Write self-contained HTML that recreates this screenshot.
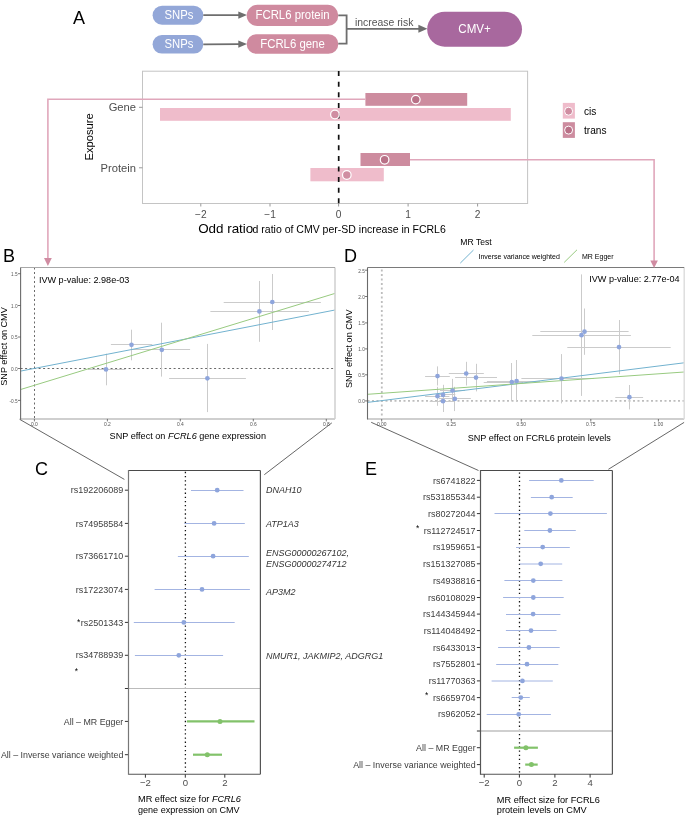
<!DOCTYPE html>
<html><head><meta charset="utf-8"><title>figure</title>
<style>
html,body{margin:0;padding:0;background:#fff;}
body{width:685px;height:820px;overflow:hidden;}
svg{display:block;will-change:transform;font-family:"Liberation Sans", sans-serif;}
</style></head>
<body>
<svg width="685" height="820" viewBox="0 0 685 820">
<rect x="0" y="0" width="685" height="820" fill="#fff"/>
<text x="73" y="24" font-size="18" fill="#000" text-anchor="start" >A</text>
<rect x="152.6" y="5.8" width="50.7" height="19" rx="9.5" fill="#93a7d8"/>
<rect x="152.6" y="35" width="50.7" height="18.6" rx="9.3" fill="#93a7d8"/>
<text transform="translate(179,19.0) scale(1,1.06)" font-size="11.3" fill="#fff" text-anchor="middle">SNPs</text>
<text transform="translate(179,48.0) scale(1,1.06)" font-size="11.3" fill="#fff" text-anchor="middle">SNPs</text>
<line x1="203.3" y1="15.1" x2="239" y2="15.1" stroke="#6e6e6e" stroke-width="1.8" />
<polygon points="238.3,11.4 247,15.1 238.3,18.8" fill="#6e6e6e"/>
<line x1="203.3" y1="44.3" x2="239" y2="44.1" stroke="#6e6e6e" stroke-width="1.8" />
<polygon points="238.3,40.4 247,44.1 238.3,47.8" fill="#6e6e6e"/>
<rect x="246.7" y="4.8" width="91.6" height="21.2" rx="10.6" fill="#cf8a9f"/>
<rect x="246.7" y="34.2" width="91.6" height="19.6" rx="9.8" fill="#cf8a9f"/>
<text transform="translate(292.5,19.3) scale(1,1.1)" font-size="11.4" fill="#fff" text-anchor="middle">FCRL6 protein</text>
<text transform="translate(292.5,47.6) scale(1,1.1)" font-size="11.4" fill="#fff" text-anchor="middle">FCRL6 gene</text>
<path d="M338.3,15.3 H346.6 V43.6 H338.3" fill="none" stroke="#6e6e6e" stroke-width="1.8"/>
<line x1="346.6" y1="28.8" x2="419" y2="28.8" stroke="#6e6e6e" stroke-width="1.8" />
<polygon points="418.4,24.8 427.4,28.8 418.4,32.8" fill="#6e6e6e"/>
<text x="355" y="25.6" font-size="10.4" fill="#555" text-anchor="start" >increase risk</text>
<rect x="427.2" y="11.7" width="94.8" height="35" rx="17.5" fill="#a8689e"/>
<text transform="translate(474.6,32.6) scale(1,1.08)" font-size="11.6" fill="#fff" text-anchor="middle">CMV+</text>
<rect x="142.5" y="71.2" width="385.1" height="132.3" fill="none" stroke="#c4c4c4" stroke-width="1"/>
<line x1="139" y1="107.3" x2="142.5" y2="107.3" stroke="#999" stroke-width="1" />
<line x1="139" y1="167.8" x2="142.5" y2="167.8" stroke="#999" stroke-width="1" />
<line x1="200.8" y1="203.5" x2="200.8" y2="206.5" stroke="#999" stroke-width="1" />
<text x="200.8" y="218.3" font-size="10.2" fill="#4d4d4d" text-anchor="middle" >−2</text>
<line x1="270.0" y1="203.5" x2="270.0" y2="206.5" stroke="#999" stroke-width="1" />
<text x="270.0" y="218.3" font-size="10.2" fill="#4d4d4d" text-anchor="middle" >−1</text>
<line x1="338.6" y1="203.5" x2="338.6" y2="206.5" stroke="#999" stroke-width="1" />
<text x="338.6" y="218.3" font-size="10.2" fill="#4d4d4d" text-anchor="middle" >0</text>
<line x1="408.1" y1="203.5" x2="408.1" y2="206.5" stroke="#999" stroke-width="1" />
<text x="408.1" y="218.3" font-size="10.2" fill="#4d4d4d" text-anchor="middle" >1</text>
<line x1="477.6" y1="203.5" x2="477.6" y2="206.5" stroke="#999" stroke-width="1" />
<text x="477.6" y="218.3" font-size="10.2" fill="#4d4d4d" text-anchor="middle" >2</text>
<text x="136" y="111.3" font-size="11.2" fill="#4d4d4d" text-anchor="end" >Gene</text>
<text x="136" y="171.6" font-size="11.2" fill="#4d4d4d" text-anchor="end" >Protein</text>
<text transform="translate(92.7,136.9) rotate(-90)" font-size="11.2" fill="#000" text-anchor="middle">Exposure</text>
<rect x="365.4" y="93" width="101.8" height="12.8" fill="#cd8c9f" />
<rect x="160" y="108" width="350.8" height="12.8" fill="#efbccb" />
<rect x="360.5" y="153" width="49.5" height="13" fill="#cd8c9f" />
<rect x="310.4" y="168" width="73.4" height="13.3" fill="#efbccb" />
<line x1="338.7" y1="71.1" x2="338.7" y2="203.6" stroke="#111" stroke-width="1.7" stroke-dasharray="5.0,5.6"/>
<path d="M365.4,99.2 H47.9 V258.5" fill="none" stroke="#e0a7bb" stroke-width="1.6"/>
<path d="M410,159.7 H654.1 V261" fill="none" stroke="#e0a7bb" stroke-width="1.6"/>
<circle cx="415.8" cy="99.6" r="4.3" fill="#b97187" stroke="#fff" stroke-width="1.2"/>
<circle cx="334.9" cy="114.5" r="4.3" fill="#d08ea2" stroke="#fff" stroke-width="1.2"/>
<circle cx="384.6" cy="159.8" r="4.3" fill="#b97187" stroke="#fff" stroke-width="1.2"/>
<circle cx="346.8" cy="175" r="4.3" fill="#d08ea2" stroke="#fff" stroke-width="1.2"/>
<text x="198.2" y="233.4" font-size="13.4" fill="#000" text-anchor="start" >Odd ratio</text>
<text x="252.6" y="233.4" font-size="10.5" fill="#000" text-anchor="start" >d ratio of CMV per-SD increase in FCRL6</text>
<rect x="562.8" y="102.9" width="12.1" height="15.7" fill="#efbccb" />
<circle cx="568.6" cy="111.2" r="4.0" fill="#d08ea2" stroke="#fff" stroke-width="1"/>
<rect x="562.8" y="122.2" width="12.1" height="15.7" fill="#cd8c9f" />
<circle cx="568.6" cy="130.1" r="4.0" fill="#b97187" stroke="#fff" stroke-width="1"/>
<text x="584" y="114.9" font-size="10.1" fill="#000" text-anchor="start" >cis</text>
<text x="584" y="134.2" font-size="10.1" fill="#000" text-anchor="start" >trans</text>
<text x="2.9" y="262" font-size="18" fill="#000" text-anchor="start" >B</text>
<line x1="34.5" y1="267.5" x2="34.5" y2="418.9" stroke="#6a6a6a" stroke-width="1.0" stroke-dasharray="2,2.5"/>
<line x1="20.6" y1="368.5" x2="335.0" y2="368.5" stroke="#6a6a6a" stroke-width="1.0" stroke-dasharray="2,2.5"/>
<line x1="106.5" y1="353.7" x2="106.5" y2="385.3" stroke="#cbcbcb" stroke-width="1" />
<line x1="88.0" y1="369.5" x2="125.4" y2="369.5" stroke="#cbcbcb" stroke-width="1" />
<line x1="131.5" y1="329.7" x2="131.5" y2="360.3" stroke="#cbcbcb" stroke-width="1" />
<line x1="110.9" y1="344.5" x2="152.3" y2="344.5" stroke="#cbcbcb" stroke-width="1" />
<line x1="161.5" y1="322.7" x2="161.5" y2="376.6" stroke="#cbcbcb" stroke-width="1" />
<line x1="131.0" y1="349.5" x2="190.1" y2="349.5" stroke="#cbcbcb" stroke-width="1" />
<line x1="207.5" y1="343.9" x2="207.5" y2="412.1" stroke="#cbcbcb" stroke-width="1" />
<line x1="169.1" y1="378.5" x2="245.9" y2="378.5" stroke="#cbcbcb" stroke-width="1" />
<line x1="259.5" y1="281.0" x2="259.5" y2="341.8" stroke="#cbcbcb" stroke-width="1" />
<line x1="210.4" y1="311.5" x2="308.9" y2="311.5" stroke="#cbcbcb" stroke-width="1" />
<line x1="272.5" y1="274.0" x2="272.5" y2="330.0" stroke="#cbcbcb" stroke-width="1" />
<line x1="223.7" y1="302.5" x2="320.9" y2="302.5" stroke="#cbcbcb" stroke-width="1" />
<line x1="20.6" y1="371.1" x2="335.0" y2="310.0" stroke="#72b2cf" stroke-width="1" />
<line x1="20.6" y1="389.5" x2="335.0" y2="293.4" stroke="#98ca80" stroke-width="1" />
<circle cx="106.0" cy="369.4" r="2.35" fill="#8ea5dc" />
<circle cx="131.5" cy="344.8" r="2.35" fill="#8ea5dc" />
<circle cx="161.8" cy="349.8" r="2.35" fill="#8ea5dc" />
<circle cx="207.4" cy="378.3" r="2.35" fill="#8ea5dc" />
<circle cx="259.4" cy="311.4" r="2.35" fill="#8ea5dc" />
<circle cx="272.3" cy="302.0" r="2.35" fill="#8ea5dc" />
<line x1="20.6" y1="418.9" x2="335.0" y2="418.9" stroke="#cfcfcf" stroke-width="2" />
<line x1="335.0" y1="267.5" x2="335.0" y2="418.9" stroke="#cfcfcf" stroke-width="1.5" />
<line x1="20.6" y1="267.5" x2="335.0" y2="267.5" stroke="#a8a8a8" stroke-width="1" />
<line x1="20.6" y1="267.5" x2="20.6" y2="419.4" stroke="#6a6a6a" stroke-width="1.1" />
<line x1="18" y1="273.7" x2="20.6" y2="273.7" stroke="#555" stroke-width="0.8" />
<text transform="translate(17.6,276.0) scale(0.86,1.0)" font-size="5.5" fill="#555" text-anchor="end">1.5</text>
<line x1="18" y1="305.5" x2="20.6" y2="305.5" stroke="#555" stroke-width="0.8" />
<text transform="translate(17.6,307.8) scale(0.86,1.0)" font-size="5.5" fill="#555" text-anchor="end">1.0</text>
<line x1="18" y1="337.0" x2="20.6" y2="337.0" stroke="#555" stroke-width="0.8" />
<text transform="translate(17.6,339.3) scale(0.86,1.0)" font-size="5.5" fill="#555" text-anchor="end">0.5</text>
<line x1="18" y1="368.5" x2="20.6" y2="368.5" stroke="#555" stroke-width="0.8" />
<text transform="translate(17.6,370.8) scale(0.86,1.0)" font-size="5.5" fill="#555" text-anchor="end">0.0</text>
<line x1="18" y1="400.4" x2="20.6" y2="400.4" stroke="#555" stroke-width="0.8" />
<text transform="translate(17.6,402.7) scale(0.86,1.0)" font-size="5.5" fill="#555" text-anchor="end">-0.5</text>
<line x1="34.4" y1="418.9" x2="34.4" y2="421.4" stroke="#555" stroke-width="0.8" />
<text transform="translate(34.4,425.8) scale(0.88,1.0)" font-size="5.6" fill="#555" text-anchor="middle">0.0</text>
<line x1="107.4" y1="418.9" x2="107.4" y2="421.4" stroke="#555" stroke-width="0.8" />
<text transform="translate(107.4,425.8) scale(0.88,1.0)" font-size="5.6" fill="#555" text-anchor="middle">0.2</text>
<line x1="180.3" y1="418.9" x2="180.3" y2="421.4" stroke="#555" stroke-width="0.8" />
<text transform="translate(180.3,425.8) scale(0.88,1.0)" font-size="5.6" fill="#555" text-anchor="middle">0.4</text>
<line x1="253.3" y1="418.9" x2="253.3" y2="421.4" stroke="#555" stroke-width="0.8" />
<text transform="translate(253.3,425.8) scale(0.88,1.0)" font-size="5.6" fill="#555" text-anchor="middle">0.6</text>
<line x1="326.3" y1="418.9" x2="326.3" y2="421.4" stroke="#555" stroke-width="0.8" />
<text transform="translate(326.3,425.8) scale(0.88,1.0)" font-size="5.6" fill="#555" text-anchor="middle">0.8</text>
<text x="38.9" y="282.8" font-size="9.1" fill="#000" text-anchor="start" >IVW p-value: 2.98e-03</text>
<text transform="translate(7.3,346.5) rotate(-90)" font-size="9.1" fill="#000" text-anchor="middle">SNP effect on CMV</text>
<text x="109.6" y="438.9" font-size="9.1" fill="#000">SNP effect on <tspan font-style="italic">FCRL6</tspan> gene expression</text>
<line x1="19.6" y1="419.3" x2="124.4" y2="479.4" stroke="#555" stroke-width="0.9" />
<line x1="331.8" y1="422.9" x2="264.3" y2="474.7" stroke="#555" stroke-width="0.9" />
<text x="343.9" y="262" font-size="18" fill="#000" text-anchor="start" >D</text>
<line x1="381.8" y1="269.4" x2="381.8" y2="419.0" stroke="#bdbdbd" stroke-width="1.8" stroke-dasharray="2,2.5"/>
<line x1="367.5" y1="400.9" x2="684.2" y2="400.9" stroke="#bdbdbd" stroke-width="1.8" stroke-dasharray="2,2.5"/>
<line x1="437.5" y1="366.4" x2="437.5" y2="385.5" stroke="#cbcbcb" stroke-width="1" />
<line x1="425.1" y1="376.5" x2="449.8" y2="376.5" stroke="#cbcbcb" stroke-width="1" />
<line x1="437.5" y1="386.8" x2="437.5" y2="405.8" stroke="#cbcbcb" stroke-width="1" />
<line x1="425.1" y1="396.5" x2="449.4" y2="396.5" stroke="#cbcbcb" stroke-width="1" />
<line x1="443.5" y1="384.8" x2="443.5" y2="411.8" stroke="#cbcbcb" stroke-width="1" />
<line x1="438.2" y1="394.5" x2="455.3" y2="394.5" stroke="#cbcbcb" stroke-width="1" />
<line x1="443.5" y1="390.0" x2="443.5" y2="412.0" stroke="#cbcbcb" stroke-width="1" />
<line x1="429.7" y1="401.5" x2="453.4" y2="401.5" stroke="#cbcbcb" stroke-width="1" />
<line x1="452.5" y1="378.9" x2="452.5" y2="401.2" stroke="#cbcbcb" stroke-width="1" />
<line x1="440.0" y1="390.5" x2="465.0" y2="390.5" stroke="#cbcbcb" stroke-width="1" />
<line x1="454.5" y1="386.8" x2="454.5" y2="411.1" stroke="#cbcbcb" stroke-width="1" />
<line x1="438.9" y1="398.5" x2="470.8" y2="398.5" stroke="#cbcbcb" stroke-width="1" />
<line x1="466.5" y1="361.8" x2="466.5" y2="385.5" stroke="#cbcbcb" stroke-width="1" />
<line x1="448.8" y1="373.5" x2="483.8" y2="373.5" stroke="#cbcbcb" stroke-width="1" />
<line x1="476.5" y1="363.8" x2="476.5" y2="391.4" stroke="#cbcbcb" stroke-width="1" />
<line x1="455.1" y1="377.5" x2="497.0" y2="377.5" stroke="#cbcbcb" stroke-width="1" />
<line x1="511.5" y1="363.0" x2="511.5" y2="401.0" stroke="#cbcbcb" stroke-width="1" />
<line x1="483.7" y1="382.5" x2="523.0" y2="382.5" stroke="#cbcbcb" stroke-width="1" />
<line x1="516.5" y1="360.0" x2="516.5" y2="401.8" stroke="#cbcbcb" stroke-width="1" />
<line x1="486.9" y1="381.5" x2="540.0" y2="381.5" stroke="#cbcbcb" stroke-width="1" />
<line x1="561.5" y1="354.1" x2="561.5" y2="403.4" stroke="#cbcbcb" stroke-width="1" />
<line x1="521.4" y1="378.5" x2="594.0" y2="378.5" stroke="#cbcbcb" stroke-width="1" />
<line x1="581.5" y1="274.4" x2="581.5" y2="395.9" stroke="#cbcbcb" stroke-width="1" />
<line x1="532.3" y1="335.5" x2="630.9" y2="335.5" stroke="#cbcbcb" stroke-width="1" />
<line x1="584.5" y1="308.5" x2="584.5" y2="354.8" stroke="#cbcbcb" stroke-width="1" />
<line x1="540.3" y1="331.5" x2="628.6" y2="331.5" stroke="#cbcbcb" stroke-width="1" />
<line x1="619.5" y1="320.0" x2="619.5" y2="374.3" stroke="#cbcbcb" stroke-width="1" />
<line x1="567.3" y1="347.5" x2="670.7" y2="347.5" stroke="#cbcbcb" stroke-width="1" />
<line x1="629.5" y1="385.0" x2="629.5" y2="409.4" stroke="#cbcbcb" stroke-width="1" />
<line x1="615.3" y1="397.5" x2="643.1" y2="397.5" stroke="#cbcbcb" stroke-width="1" />
<line x1="367.5" y1="402.4" x2="684.2" y2="362.8" stroke="#72b2cf" stroke-width="1" />
<line x1="367.5" y1="394.3" x2="684.2" y2="372.0" stroke="#98ca80" stroke-width="1" />
<circle cx="437.5" cy="376.1" r="2.35" fill="#8ea5dc" />
<circle cx="437.5" cy="396.2" r="2.35" fill="#8ea5dc" />
<circle cx="443.0" cy="394.9" r="2.35" fill="#8ea5dc" />
<circle cx="443.0" cy="401.2" r="2.35" fill="#8ea5dc" />
<circle cx="452.5" cy="390.5" r="2.35" fill="#8ea5dc" />
<circle cx="454.8" cy="398.9" r="2.35" fill="#8ea5dc" />
<circle cx="466.2" cy="373.5" r="2.35" fill="#8ea5dc" />
<circle cx="476.0" cy="377.6" r="2.35" fill="#8ea5dc" />
<circle cx="511.8" cy="382.0" r="2.35" fill="#8ea5dc" />
<circle cx="516.6" cy="381.0" r="2.35" fill="#8ea5dc" />
<circle cx="561.5" cy="378.5" r="2.35" fill="#8ea5dc" />
<circle cx="581.5" cy="335.2" r="2.35" fill="#8ea5dc" />
<circle cx="584.5" cy="331.7" r="2.35" fill="#8ea5dc" />
<circle cx="619.0" cy="347.1" r="2.35" fill="#8ea5dc" />
<circle cx="629.4" cy="397.2" r="2.35" fill="#8ea5dc" />
<line x1="367.5" y1="419.0" x2="684.2" y2="419.0" stroke="#cfcfcf" stroke-width="2" />
<line x1="684.2" y1="267.5" x2="684.2" y2="419.0" stroke="#dedede" stroke-width="1.5" />
<line x1="367.5" y1="267.5" x2="684.2" y2="267.5" stroke="#7a7a7a" stroke-width="1" />
<line x1="367.5" y1="267.5" x2="367.5" y2="419.5" stroke="#6a6a6a" stroke-width="1.1" />
<line x1="365" y1="270.2" x2="367.5" y2="270.2" stroke="#555" stroke-width="0.8" />
<text transform="translate(364.8,272.5) scale(0.86,1.0)" font-size="5.5" fill="#555" text-anchor="end">2.5</text>
<line x1="365" y1="296.5" x2="367.5" y2="296.5" stroke="#555" stroke-width="0.8" />
<text transform="translate(364.8,298.8) scale(0.86,1.0)" font-size="5.5" fill="#555" text-anchor="end">2.0</text>
<line x1="365" y1="322.9" x2="367.5" y2="322.9" stroke="#555" stroke-width="0.8" />
<text transform="translate(364.8,325.2) scale(0.86,1.0)" font-size="5.5" fill="#555" text-anchor="end">1.5</text>
<line x1="365" y1="348.9" x2="367.5" y2="348.9" stroke="#555" stroke-width="0.8" />
<text transform="translate(364.8,351.2) scale(0.86,1.0)" font-size="5.5" fill="#555" text-anchor="end">1.0</text>
<line x1="365" y1="374.8" x2="367.5" y2="374.8" stroke="#555" stroke-width="0.8" />
<text transform="translate(364.8,377.1) scale(0.86,1.0)" font-size="5.5" fill="#555" text-anchor="end">0.5</text>
<line x1="365" y1="400.9" x2="367.5" y2="400.9" stroke="#555" stroke-width="0.8" />
<text transform="translate(364.8,403.2) scale(0.86,1.0)" font-size="5.5" fill="#555" text-anchor="end">0.0</text>
<line x1="381.7" y1="419.0" x2="381.7" y2="421.5" stroke="#555" stroke-width="0.8" />
<text transform="translate(381.7,425.8) scale(0.88,1.0)" font-size="5.6" fill="#555" text-anchor="middle">0.00</text>
<line x1="451.3" y1="419.0" x2="451.3" y2="421.5" stroke="#555" stroke-width="0.8" />
<text transform="translate(451.3,425.8) scale(0.88,1.0)" font-size="5.6" fill="#555" text-anchor="middle">0.25</text>
<line x1="521.3" y1="419.0" x2="521.3" y2="421.5" stroke="#555" stroke-width="0.8" />
<text transform="translate(521.3,425.8) scale(0.88,1.0)" font-size="5.6" fill="#555" text-anchor="middle">0.50</text>
<line x1="590.8" y1="419.0" x2="590.8" y2="421.5" stroke="#555" stroke-width="0.8" />
<text transform="translate(590.8,425.8) scale(0.88,1.0)" font-size="5.6" fill="#555" text-anchor="middle">0.75</text>
<line x1="658.4" y1="419.0" x2="658.4" y2="421.5" stroke="#555" stroke-width="0.8" />
<text transform="translate(658.4,425.8) scale(0.88,1.0)" font-size="5.6" fill="#555" text-anchor="middle">1.00</text>
<text x="589.2" y="281.9" font-size="9.1" fill="#000" text-anchor="start" >IVW p-value: 2.77e-04</text>
<text transform="translate(351.7,348.8) rotate(-90)" font-size="9.1" fill="#000" text-anchor="middle">SNP effect on CMV</text>
<text x="467.7" y="441" font-size="9.1" fill="#000" text-anchor="start" >SNP effect on FCRL6 protein levels</text>
<text x="460.3" y="244.6" font-size="8.6" fill="#000" text-anchor="start" >MR Test</text>
<line x1="460.3" y1="263.1" x2="473.5" y2="250" stroke="#72b2cf" stroke-width="1" />
<text x="478.5" y="259.4" font-size="7.0" fill="#000" text-anchor="start" >Inverse variance weighted</text>
<line x1="564.2" y1="262.4" x2="577" y2="249.8" stroke="#98ca80" stroke-width="1" />
<text x="582" y="259.4" font-size="7.0" fill="#000" text-anchor="start" >MR Egger</text>
<line x1="371.2" y1="422.3" x2="478.5" y2="470.5" stroke="#555" stroke-width="0.9" />
<line x1="684.1" y1="422.4" x2="608.4" y2="469.3" stroke="#555" stroke-width="0.9" />
<text x="34.9" y="475.4" font-size="18" fill="#000" text-anchor="start" >C</text>
<line x1="185.4" y1="471.85" x2="185.4" y2="774.3" stroke="#111" stroke-width="1.3" stroke-dasharray="1.3,2.85"/>
<line x1="128.5" y1="688.5" x2="260.4" y2="688.5" stroke="#bbbbbb" stroke-width="1.2" />
<line x1="191.0" y1="490.5" x2="243.5" y2="490.5" stroke="#a3b4e2" stroke-width="1" />
<circle cx="217.2" cy="490.2" r="2.4" fill="#8ea5dc" />
<line x1="184.3" y1="523.5" x2="244.8" y2="523.5" stroke="#a3b4e2" stroke-width="1" />
<circle cx="214.1" cy="523.4" r="2.4" fill="#8ea5dc" />
<line x1="177.9" y1="556.5" x2="248.8" y2="556.5" stroke="#a3b4e2" stroke-width="1" />
<circle cx="213.1" cy="556.2" r="2.4" fill="#8ea5dc" />
<line x1="154.6" y1="589.5" x2="249.9" y2="589.5" stroke="#a3b4e2" stroke-width="1" />
<circle cx="202.0" cy="589.4" r="2.4" fill="#8ea5dc" />
<line x1="133.8" y1="622.5" x2="234.7" y2="622.5" stroke="#a3b4e2" stroke-width="1" />
<circle cx="183.8" cy="622.4" r="2.4" fill="#8ea5dc" />
<line x1="134.9" y1="655.5" x2="223.1" y2="655.5" stroke="#a3b4e2" stroke-width="1" />
<circle cx="178.8" cy="655.3" r="2.4" fill="#8ea5dc" />
<line x1="186.9" y1="721.4" x2="254.5" y2="721.4" stroke="#82c26a" stroke-width="2.2" />
<circle cx="220.0" cy="721.4" r="2.5" fill="#82c26a" />
<line x1="193.0" y1="754.7" x2="222.0" y2="754.7" stroke="#82c26a" stroke-width="2.2" />
<circle cx="207.3" cy="754.7" r="2.5" fill="#82c26a" />
<line x1="124.9" y1="490.2" x2="128.5" y2="490.2" stroke="#333" stroke-width="1" />
<line x1="124.9" y1="523.4" x2="128.5" y2="523.4" stroke="#333" stroke-width="1" />
<line x1="124.9" y1="556.2" x2="128.5" y2="556.2" stroke="#333" stroke-width="1" />
<line x1="124.9" y1="589.4" x2="128.5" y2="589.4" stroke="#333" stroke-width="1" />
<line x1="124.9" y1="622.4" x2="128.5" y2="622.4" stroke="#333" stroke-width="1" />
<line x1="124.9" y1="655.3" x2="128.5" y2="655.3" stroke="#333" stroke-width="1" />
<line x1="124.9" y1="721.4" x2="128.5" y2="721.4" stroke="#333" stroke-width="1" />
<line x1="124.9" y1="754.7" x2="128.5" y2="754.7" stroke="#333" stroke-width="1" />
<line x1="124.9" y1="688.5" x2="128.5" y2="688.5" stroke="#333" stroke-width="1" />
<line x1="128.5" y1="470.5" x2="260.4" y2="470.5" stroke="#4a4a4a" stroke-width="1.1" />
<line x1="260.4" y1="470.5" x2="260.4" y2="774.3" stroke="#555" stroke-width="1.2" />
<line x1="128.5" y1="774.3" x2="260.4" y2="774.3" stroke="#555" stroke-width="1.1" />
<line x1="128.5" y1="470.0" x2="128.5" y2="774.8" stroke="#777" stroke-width="1.2" />
<text x="123.3" y="493.3" font-size="9.0" fill="#3d3d3d" text-anchor="end" >rs192206089</text>
<text x="123.3" y="526.5" font-size="9.0" fill="#3d3d3d" text-anchor="end" >rs74958584</text>
<text x="123.3" y="559.3000000000001" font-size="9.0" fill="#3d3d3d" text-anchor="end" >rs73661710</text>
<text x="123.3" y="592.5" font-size="9.0" fill="#3d3d3d" text-anchor="end" >rs17223074</text>
<text x="123.3" y="625.5" font-size="9.0" fill="#3d3d3d" text-anchor="end" >rs2501343</text>
<text x="123.3" y="658.4" font-size="9.0" fill="#3d3d3d" text-anchor="end" >rs34788939</text>
<text x="123.3" y="724.5" font-size="8.85" fill="#3d3d3d" text-anchor="end" >All – MR Egger</text>
<text x="123.3" y="757.8000000000001" font-size="8.85" fill="#3d3d3d" text-anchor="end" >All – Inverse variance weighted</text>
<line x1="145.4" y1="774.3" x2="145.4" y2="777.6999999999999" stroke="#333" stroke-width="1" />
<text x="145.4" y="786.3" font-size="9.6" fill="#4d4d4d" text-anchor="middle" >−2</text>
<line x1="185.3" y1="774.3" x2="185.3" y2="777.6999999999999" stroke="#333" stroke-width="1" />
<text x="185.3" y="786.3" font-size="9.6" fill="#4d4d4d" text-anchor="middle" >0</text>
<line x1="224.8" y1="774.3" x2="224.8" y2="777.6999999999999" stroke="#333" stroke-width="1" />
<text x="224.8" y="786.3" font-size="9.6" fill="#4d4d4d" text-anchor="middle" >2</text>
<text x="78.7" y="625.2" font-size="8.4" fill="#000" text-anchor="middle" >*</text>
<text x="76.5" y="674.2" font-size="8.4" fill="#000" text-anchor="middle" >*</text>
<text x="138" y="802.4" font-size="9.2" fill="#000">MR effect size for <tspan font-style="italic">FCRL6</tspan></text>
<text x="138" y="813.2" font-size="9.05" fill="#000" text-anchor="start" >gene expression on CMV</text>
<text x="266" y="493.4" font-size="9.0" fill="#333" text-anchor="start" font-style="italic">DNAH10</text>
<text x="266" y="527.2" font-size="9.0" fill="#333" text-anchor="start" font-style="italic">ATP1A3</text>
<text x="266" y="556.2" font-size="9.0" fill="#333" text-anchor="start" font-style="italic">ENSG00000267102,</text>
<text x="266" y="566.6" font-size="9.0" fill="#333" text-anchor="start" font-style="italic">ENSG00000274712</text>
<text x="266" y="594.7" font-size="9.0" fill="#333" text-anchor="start" font-style="italic">AP3M2</text>
<text x="266" y="659.2" font-size="9.0" fill="#333" text-anchor="start" font-style="italic">NMUR1, JAKMIP2, ADGRG1</text>
<text x="365" y="474.8" font-size="18" fill="#000" text-anchor="start" >E</text>
<line x1="519.5" y1="472.45" x2="519.5" y2="774.2" stroke="#111" stroke-width="1.3" stroke-dasharray="1.3,2.85"/>
<line x1="480.5" y1="731.0" x2="612.4" y2="731.0" stroke="#cfcfcf" stroke-width="2" />
<line x1="529.1" y1="480.5" x2="593.7" y2="480.5" stroke="#a3b4e2" stroke-width="1" />
<circle cx="561.3" cy="480.4" r="2.4" fill="#8ea5dc" />
<line x1="530.9" y1="497.5" x2="572.7" y2="497.5" stroke="#a3b4e2" stroke-width="1" />
<circle cx="551.7" cy="497.2" r="2.4" fill="#8ea5dc" />
<line x1="494.5" y1="513.5" x2="606.9" y2="513.5" stroke="#a3b4e2" stroke-width="1" />
<circle cx="550.4" cy="513.6" r="2.4" fill="#8ea5dc" />
<line x1="524.3" y1="530.5" x2="575.8" y2="530.5" stroke="#a3b4e2" stroke-width="1" />
<circle cx="549.9" cy="530.5" r="2.4" fill="#8ea5dc" />
<line x1="516.0" y1="547.5" x2="569.8" y2="547.5" stroke="#a3b4e2" stroke-width="1" />
<circle cx="542.7" cy="547.1" r="2.4" fill="#8ea5dc" />
<line x1="519.7" y1="564" x2="562.2" y2="564" stroke="#a3b4e2" stroke-width="1" />
<circle cx="540.7" cy="563.8" r="2.4" fill="#8ea5dc" />
<line x1="504.4" y1="580.5" x2="562.4" y2="580.5" stroke="#a3b4e2" stroke-width="1" />
<circle cx="533.3" cy="580.6" r="2.4" fill="#8ea5dc" />
<line x1="503.1" y1="597.5" x2="563.7" y2="597.5" stroke="#a3b4e2" stroke-width="1" />
<circle cx="533.3" cy="597.5" r="2.4" fill="#8ea5dc" />
<line x1="506.0" y1="614.5" x2="560.4" y2="614.5" stroke="#a3b4e2" stroke-width="1" />
<circle cx="533.1" cy="614.1" r="2.4" fill="#8ea5dc" />
<line x1="505.9" y1="630.5" x2="556.5" y2="630.5" stroke="#a3b4e2" stroke-width="1" />
<circle cx="531.0" cy="630.6" r="2.4" fill="#8ea5dc" />
<line x1="498.1" y1="647.5" x2="559.7" y2="647.5" stroke="#a3b4e2" stroke-width="1" />
<circle cx="528.9" cy="647.5" r="2.4" fill="#8ea5dc" />
<line x1="496.2" y1="664.5" x2="558.3" y2="664.5" stroke="#a3b4e2" stroke-width="1" />
<circle cx="527.0" cy="664.2" r="2.4" fill="#8ea5dc" />
<line x1="491.6" y1="681" x2="552.8" y2="681" stroke="#a3b4e2" stroke-width="1" />
<circle cx="522.4" cy="680.9" r="2.4" fill="#8ea5dc" />
<line x1="511.7" y1="697.5" x2="529.8" y2="697.5" stroke="#a3b4e2" stroke-width="1" />
<circle cx="520.8" cy="697.6" r="2.4" fill="#8ea5dc" />
<line x1="486.7" y1="714.5" x2="550.9" y2="714.5" stroke="#a3b4e2" stroke-width="1" />
<circle cx="518.7" cy="714.3" r="2.4" fill="#8ea5dc" />
<line x1="514.1" y1="747.7" x2="537.9" y2="747.7" stroke="#82c26a" stroke-width="2.2" />
<circle cx="525.9" cy="747.7" r="2.5" fill="#82c26a" />
<line x1="525.2" y1="764.6" x2="537.7" y2="764.6" stroke="#82c26a" stroke-width="2.2" />
<circle cx="531.4" cy="764.6" r="2.5" fill="#82c26a" />
<line x1="476.9" y1="480.4" x2="480.5" y2="480.4" stroke="#333" stroke-width="1" />
<line x1="476.9" y1="497.2" x2="480.5" y2="497.2" stroke="#333" stroke-width="1" />
<line x1="476.9" y1="513.6" x2="480.5" y2="513.6" stroke="#333" stroke-width="1" />
<line x1="476.9" y1="530.5" x2="480.5" y2="530.5" stroke="#333" stroke-width="1" />
<line x1="476.9" y1="547.1" x2="480.5" y2="547.1" stroke="#333" stroke-width="1" />
<line x1="476.9" y1="563.8" x2="480.5" y2="563.8" stroke="#333" stroke-width="1" />
<line x1="476.9" y1="580.6" x2="480.5" y2="580.6" stroke="#333" stroke-width="1" />
<line x1="476.9" y1="597.5" x2="480.5" y2="597.5" stroke="#333" stroke-width="1" />
<line x1="476.9" y1="614.1" x2="480.5" y2="614.1" stroke="#333" stroke-width="1" />
<line x1="476.9" y1="630.6" x2="480.5" y2="630.6" stroke="#333" stroke-width="1" />
<line x1="476.9" y1="647.5" x2="480.5" y2="647.5" stroke="#333" stroke-width="1" />
<line x1="476.9" y1="664.2" x2="480.5" y2="664.2" stroke="#333" stroke-width="1" />
<line x1="476.9" y1="680.9" x2="480.5" y2="680.9" stroke="#333" stroke-width="1" />
<line x1="476.9" y1="697.6" x2="480.5" y2="697.6" stroke="#333" stroke-width="1" />
<line x1="476.9" y1="714.3" x2="480.5" y2="714.3" stroke="#333" stroke-width="1" />
<line x1="476.9" y1="747.7" x2="480.5" y2="747.7" stroke="#333" stroke-width="1" />
<line x1="476.9" y1="764.6" x2="480.5" y2="764.6" stroke="#333" stroke-width="1" />
<line x1="476.9" y1="731.0" x2="480.5" y2="731.0" stroke="#333" stroke-width="1" />
<line x1="480.5" y1="470.5" x2="612.4" y2="470.5" stroke="#4a4a4a" stroke-width="1.1" />
<line x1="612.4" y1="470.5" x2="612.4" y2="774.2" stroke="#555" stroke-width="1.2" />
<line x1="480.5" y1="774.2" x2="612.4" y2="774.2" stroke="#555" stroke-width="1.1" />
<line x1="480.5" y1="470.0" x2="480.5" y2="774.7" stroke="#555" stroke-width="1.2" />
<text x="475.6" y="483.5" font-size="9.0" fill="#3d3d3d" text-anchor="end" >rs6741822</text>
<text x="475.6" y="500.3" font-size="9.0" fill="#3d3d3d" text-anchor="end" >rs531855344</text>
<text x="475.6" y="516.7" font-size="9.0" fill="#3d3d3d" text-anchor="end" >rs80272044</text>
<text x="475.6" y="533.6" font-size="9.0" fill="#3d3d3d" text-anchor="end" >rs112724517</text>
<text x="475.6" y="550.2" font-size="9.0" fill="#3d3d3d" text-anchor="end" >rs1959651</text>
<text x="475.6" y="566.9" font-size="9.0" fill="#3d3d3d" text-anchor="end" >rs151327085</text>
<text x="475.6" y="583.7" font-size="9.0" fill="#3d3d3d" text-anchor="end" >rs4938816</text>
<text x="475.6" y="600.6" font-size="9.0" fill="#3d3d3d" text-anchor="end" >rs60108029</text>
<text x="475.6" y="617.2" font-size="9.0" fill="#3d3d3d" text-anchor="end" >rs144345944</text>
<text x="475.6" y="633.7" font-size="9.0" fill="#3d3d3d" text-anchor="end" >rs114048492</text>
<text x="475.6" y="650.6" font-size="9.0" fill="#3d3d3d" text-anchor="end" >rs6433013</text>
<text x="475.6" y="667.3000000000001" font-size="9.0" fill="#3d3d3d" text-anchor="end" >rs7552801</text>
<text x="475.6" y="684.0" font-size="9.0" fill="#3d3d3d" text-anchor="end" >rs11770363</text>
<text x="475.6" y="700.7" font-size="9.0" fill="#3d3d3d" text-anchor="end" >rs6659704</text>
<text x="475.6" y="717.4" font-size="9.0" fill="#3d3d3d" text-anchor="end" >rs962052</text>
<text x="475.6" y="750.8000000000001" font-size="8.85" fill="#3d3d3d" text-anchor="end" >All – MR Egger</text>
<text x="475.6" y="767.7" font-size="8.85" fill="#3d3d3d" text-anchor="end" >All – Inverse variance weighted</text>
<line x1="484.2" y1="774.2" x2="484.2" y2="777.6" stroke="#333" stroke-width="1" />
<text x="484.2" y="786.4" font-size="9.6" fill="#4d4d4d" text-anchor="middle" >−2</text>
<line x1="519.4" y1="774.2" x2="519.4" y2="777.6" stroke="#333" stroke-width="1" />
<text x="519.4" y="786.4" font-size="9.6" fill="#4d4d4d" text-anchor="middle" >0</text>
<line x1="554.9" y1="774.2" x2="554.9" y2="777.6" stroke="#333" stroke-width="1" />
<text x="554.9" y="786.4" font-size="9.6" fill="#4d4d4d" text-anchor="middle" >2</text>
<line x1="590.1" y1="774.2" x2="590.1" y2="777.6" stroke="#333" stroke-width="1" />
<text x="590.1" y="786.4" font-size="9.6" fill="#4d4d4d" text-anchor="middle" >4</text>
<text x="417.6" y="531.4" font-size="8.4" fill="#000" text-anchor="middle" >*</text>
<text x="426.6" y="698.4" font-size="8.4" fill="#000" text-anchor="middle" >*</text>
<text x="496.8" y="802.8" font-size="9.2" fill="#000" text-anchor="start" >MR effect size for FCRL6</text>
<text x="496.8" y="812.6" font-size="9.2" fill="#000" text-anchor="start" >protein levels on CMV</text>
<polygon points="44,258.0 51.8,258.0 47.9,266.0" fill="#d08ca2"/>
<polygon points="650.3,260.6 657.9,260.6 654.1,268.0" fill="#d08ca2"/>
</svg>
</body></html>
